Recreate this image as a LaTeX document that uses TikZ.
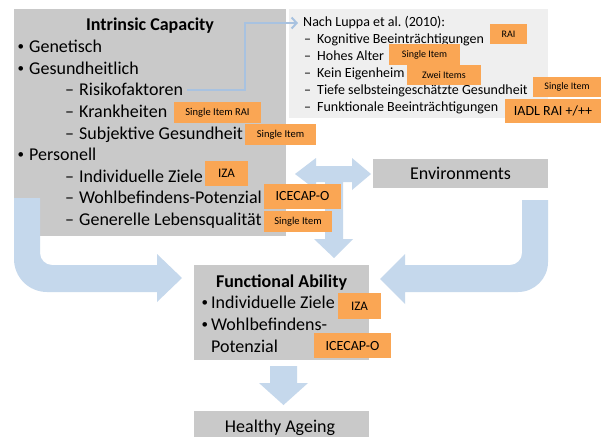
\documentclass[tikz,border=0pt]{standalone}
\usepackage{fontspec}
\setmainfont{Carlito}
\usetikzlibrary{arrows.meta}
\frenchspacing
\definecolor{boxgray}{HTML}{C9C9C9}
\definecolor{lightbg}{HTML}{EFEFEF}
\definecolor{arrowblue}{HTML}{C5D8EC}
\definecolor{tagorange}{HTML}{FAA654}
\definecolor{connblue}{HTML}{A8C2E0}
\newcommand{\fs}[1]{\fontsize{#1}{#1}\selectfont}
\newcommand{\bul}[1]{\makebox[#1][l]{\raisebox{2.2pt}{\fs{13}•}}}
\tikzset{
  graybox/.style={fill=boxgray, draw=none, inner sep=0pt, anchor=north west},
  txt/.style={inner sep=0pt, anchor=base west, font=\fs{18}},
  ltxt/.style={inner sep=0pt, anchor=base west, font=\fs{14}},
  tag/.style={fill=tagorange, inner sep=0pt, align=center},
  bigarrow/.style={fill=arrowblue, draw=none},
  conn/.style={draw=connblue, line width=2pt, -{Straight Barb[length=5pt,width=11pt]}},
}
\begin{document}
\begin{tikzpicture}[x=1pt,y=-1pt]
\useasboundingbox (0,0) rectangle (601,436);
\fill[white] (0,0) rectangle (601,436);

% boxes
\node[graybox, minimum width=272pt, minimum height=227pt] (ic) at (14,9) {};
\node[graybox, fill=lightbg, minimum width=259pt, minimum height=109pt] (lb) at (289,9) {};

% intrinsic capacity texts
\node[txt, anchor=base, font=\fs{18}\bfseries] (ictitle) at (150,30.8) {Intrinsic Capacity};
\node[txt] (gen) at (17.5,52.7) {\bul{11.5pt}Genetisch};
\node[txt] (ges) at (17.5,74.3) {\bul{11.5pt}Gesundheitlich};
\node[txt] (risk) at (65,95.9) {\makebox[14pt][l]{–}Risikofaktoren};
\node[txt] (krank) at (65,117.5) {\makebox[14pt][l]{–}Krankheiten};
\node[txt] (subj) at (65,139.1) {\makebox[14pt][l]{–}Subjektive Gesundheit};
\node[txt] (pers) at (17.5,160.7) {\bul{11.5pt}Personell};
\node[txt] (ziele) at (65,182.3) {\makebox[14pt][l]{–}Individuelle Ziele};
\node[txt] (wohl) at (65,203.9) {\makebox[14pt][l]{–}Wohlbefindens-Potenzial};
\node[txt] (lq) at (65,225.5) {\makebox[14pt][l]{–}Generelle Lebensqualität};

% Luppa texts
\node[ltxt] (lt) at (303,27) {Nach Luppa et al. (2010):};
\node[ltxt] (l1) at (304,43.8) {\makebox[13pt][l]{–}Kognitive Beeinträchtigungen};
\node[ltxt] (l2) at (304,60.6) {\makebox[13pt][l]{–}Hohes Alter};
\node[ltxt] (l3) at (304,77.4) {\makebox[13pt][l]{–}Kein Eigenheim};
\node[ltxt] (l4) at (304,94.2) {\makebox[13pt][l]{–}Tiefe selbsteingeschätzte Gesundheit};
\node[ltxt] (l5) at (304,111) {\makebox[13pt][l]{–}Funktionale Beeinträchtigungen};

% connector
\coordinate (bend) at (245,50);
\draw[conn] ([xshift=4pt]risk.east) -- (risk.east -| bend) |- ([xshift=-5pt]lt.west);

% other boxes
\node[fill=boxgray, minimum width=175pt, minimum height=29pt, inner sep=0pt, font=\fs{18}] (env) at (460.5,173.5) {Environments};
\node[graybox, minimum width=175pt, minimum height=95pt] (fa) at (194,265) {};
\node[graybox, minimum width=175pt, minimum height=30pt] (ha) at (194,411) {};

% block arrows
\fill[bigarrow] (14,198) -- (14,259) arc[start angle=180, end angle=90, radius=33]
  -- (157,292) -- (157,302) -- (182,278) -- (157,254) -- (157,265) -- (52,265)
  arc[start angle=90, end angle=180, radius=12] -- (40,198) -- cycle;
\fill[bigarrow] (548,200) -- (548,262) arc[start angle=0, end angle=90, radius=30]
  -- (405,292) -- (405,304) -- (380,279) -- (405,254) -- (405,265) -- (510,265)
  arc[start angle=90, end angle=0, radius=12] -- (522,200) -- cycle;
\fill[bigarrow] (295,174) -- (316,158) -- (316,166) -- (352,166) -- (352,158) -- (371,174)
  -- (352,190) -- (352,182) -- (343,182) -- (343,239) -- (353,239) -- (334,258)
  -- (314,239) -- (325,239) -- (325,182) -- (316,182) -- (316,190) -- cycle;
\fill[bigarrow] (270,366) -- (297,366) -- (297,383) -- (308,383) -- (283.5,405)
  -- (259,383) -- (270,383) -- cycle;

% functional ability texts
\node[txt, anchor=base, font=\fs{18}\bfseries] (fatitle) at (281.5,287.3) {Functional Ability};
\node[txt] (fa1) at (201.5,308.9) {\bul{9.5pt}Individuelle Ziele};
\node[txt] (fa2) at (201.5,330.5) {\bul{9.5pt}Wohlbefindens-};
\node[txt] (fa3) at (211,352.1) {Potenzial};
\node[txt, anchor=base] (hatext) at (280,432.7) {Healthy Ageing};

% tags intrinsic
\node[tag, minimum width=87pt, minimum height=21pt, font=\fs{10.5}] (t1) at (217.5,112.5) {Single Item RAI};
\node[tag, minimum width=71pt, minimum height=21pt, font=\fs{10.5}] (t2) at (280.5,134.5) {Single Item};
\node[tag, minimum width=43pt, minimum height=25pt, font=\fs{13}] (t3) at (226.5,173.5) {IZA};
\node[tag, minimum width=77pt, minimum height=25pt, font=\fs{14}] (t4) at (302.5,196.5) {ICECAP-O};
\node[tag, minimum width=68pt, minimum height=21pt, font=\fs{10.5}] (t5) at (298,221.5) {Single Item};

% tags Luppa
\node[tag, minimum width=37pt, minimum height=20pt, font=\fs{10}] (u1) at (508.5,34) {RAI};
\node[tag, minimum width=71pt, minimum height=21pt, font=\fs{10}] (u2) at (424.5,54.5) {Single Item};
\node[tag, minimum width=74pt, minimum height=20pt, font=\fs{10}] (u3) at (444,75) {Zwei Items};
\node[tag, minimum width=68pt, minimum height=20pt, font=\fs{10}] (u4) at (567,87) {Single Item};
\node[tag, minimum width=96pt, minimum height=24pt, font=\fs{14}] (u5) at (553,111) {IADL RAI +/++};

% tags functional ability
\node[tag, minimum width=43pt, minimum height=26pt, font=\fs{13}] (f1) at (359.5,306) {IZA};
\node[tag, minimum width=77pt, minimum height=25pt, font=\fs{14}] (f2) at (352.5,345.5) {ICECAP-O};
\end{tikzpicture}
\end{document}
